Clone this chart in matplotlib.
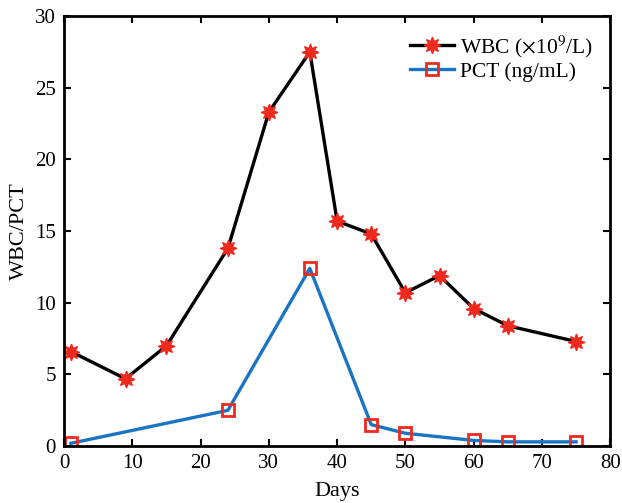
import matplotlib
matplotlib.use("Agg")
import matplotlib.pyplot as plt

wbc_days = [1, 9, 15, 24, 30, 36, 40, 45, 50, 55, 60, 65, 75]
wbc_vals = [6.6, 4.7, 7.0, 13.8, 23.3, 27.5, 15.7, 14.8, 10.7, 11.9, 9.6, 8.4, 7.3]
pct_days = [1, 24, 36, 45, 50, 60, 65, 75]
pct_vals = [0.2, 2.5, 12.4, 1.5, 0.9, 0.4, 0.3, 0.3]
xticks = [0, 10, 20, 30, 40, 50, 60, 70, 80]
yticks = [0, 5, 10, 15, 20, 25, 30]

plt.rcParams['font.family'] = ['Liberation Serif', 'DejaVu Serif']
plt.rcParams['mathtext.fontset'] = 'stix'

fig = plt.figure(figsize=(6.22, 5.03), dpi=100)
ax = fig.add_axes([0.103, 0.113, 0.878, 0.855])

ax.plot(wbc_days, wbc_vals, color='black', lw=2.4, marker=(8, 1, 0), ms=12,
        mfc='#ee2a1e', mec='#ee2a1e', label=r'WBC ($\times$10$^{9}$/L)')
ax.plot(pct_days, pct_vals, color='#1a74c4', lw=2.4, marker='s', ms=8,
        mfc='none', mec='#ee2a1e', mew=2, label='PCT (ng/mL)')

ax.set_xlim(0, 80)
ax.set_ylim(0, 30)
ax.set_xticks(xticks)
ax.set_yticks(yticks)
ax.tick_params(direction='in', top=True, right=True, labelsize=15, width=1.5, length=5, pad=6)
for s in ax.spines.values():
    s.set_linewidth(2)
ax.set_xlabel('Days', fontsize=16, labelpad=6)
ax.set_ylabel('WBC/PCT', fontsize=16, labelpad=4)
ax.legend(loc='upper right', frameon=False, fontsize=15.5, handlelength=2.0,
          borderaxespad=0.4, handletextpad=0.3, labelspacing=0.1)

fig.savefig('out.png', dpi=100)
